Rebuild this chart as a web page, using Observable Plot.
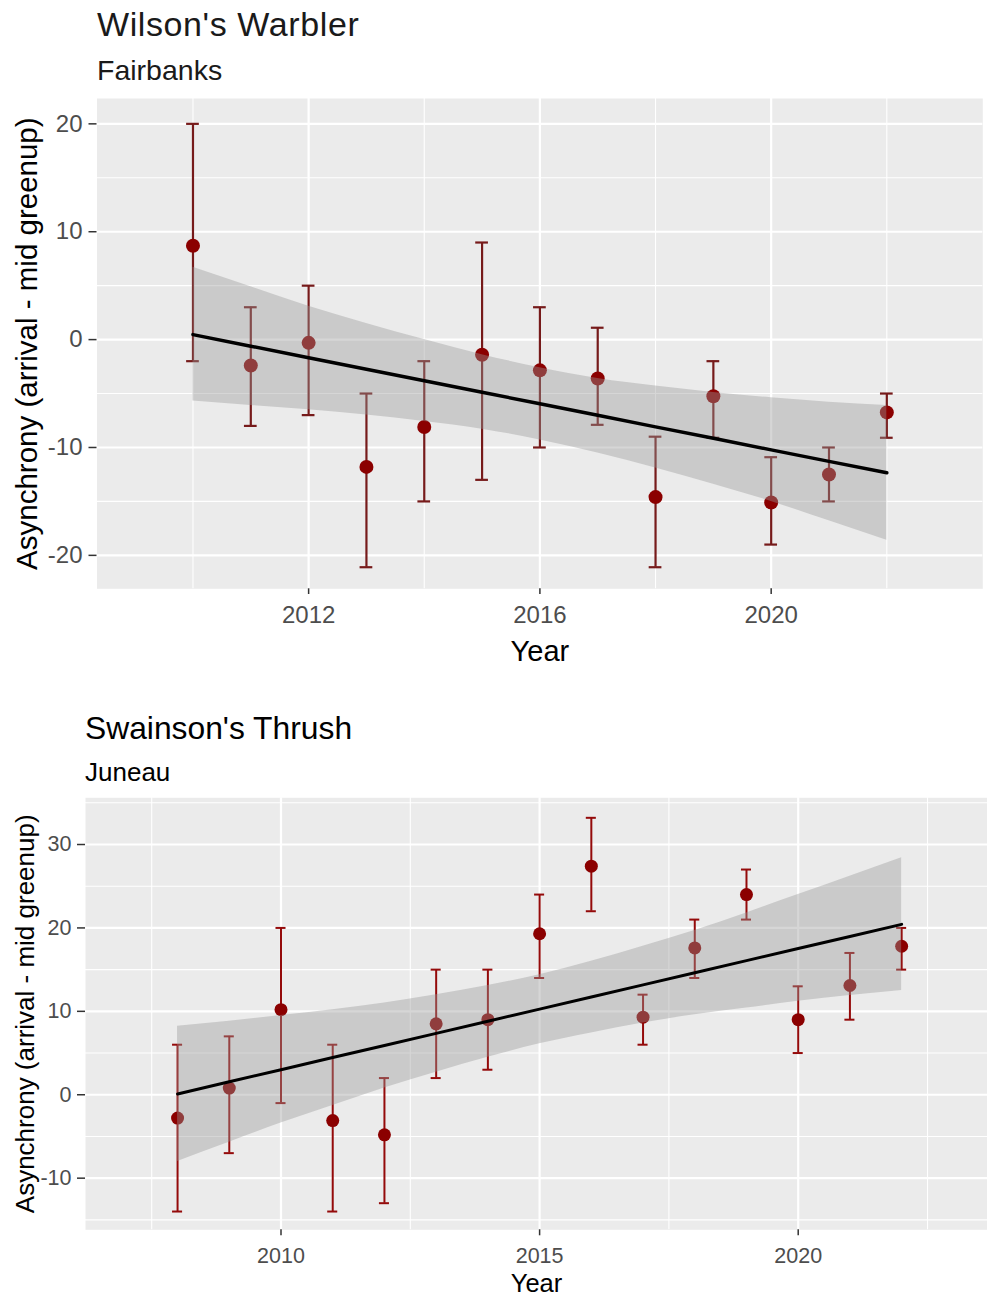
<!DOCTYPE html>
<html>
<head>
<meta charset="utf-8">
<script src="https://cdn.jsdelivr.net/npm/d3@7"></script>
<script src="https://cdn.jsdelivr.net/npm/@observablehq/plot@0.6"></script>
<style>
  html, body { margin: 0; padding: 0; background: white; }
  body { position: relative; width: 987px; height: 1298px; overflow: hidden; font-family: "Liberation Sans", Arial, sans-serif; }
  .t { position: absolute; white-space: nowrap; line-height: 1; color: black; }
  .p { position: absolute; left: 0; }
  .p svg { overflow: visible; }
</style>
</head>
<body>
<div class="t" id="t1" style="left:97px; top:6.7px; font-size:34px; letter-spacing:0.6px; color:#1a1a1a;">Wilson's Warbler</div>
<div class="t" id="s1" style="left:97px; top:55.9px; font-size:28.5px; color:#1a1a1a;">Fairbanks</div>
<div class="p" id="p1" style="top:90px;"></div>
<div class="t" id="t2" style="left:85px; top:713.1px; font-size:31.8px;">Swainson's Thrush</div>
<div class="t" id="s2" style="left:85px; top:758.7px; font-size:26px;">Juneau</div>
<div class="p" id="p2" style="top:790px;"></div>
<script>
// ---------- Wilson's Warbler, Fairbanks ----------
const wwYears = [2010, 2011, 2012, 2013, 2014, 2015, 2016, 2017, 2018, 2019, 2020, 2021, 2022];
const wwMean  = [8.7, -2.4, -0.3, -11.8, -8.1, -1.4, -2.85, -3.6, -14.6, -5.25, -15.1, -12.5, -6.75];
const wwLow   = [-2, -8, -7, -21.1, -15, -13, -10, -7.9, -21.1, -9.1, -19, -15, -9.1];
const wwHigh  = [20, 3, 5, -5, -2, 9, 3, 1.1, -9, -2, -10.9, -10, -5];
const wwFit   = [0.46, -0.61, -1.68, -2.74, -3.81, -4.88, -5.95, -7.02, -8.09, -9.15, -10.22, -11.29, -12.35];
const wwBandHi = [6.7, 4.9, 3.1, 1.5, 0.0, -1.4, -2.6, -3.6, -4.3, -4.9, -5.4, -5.8, -6.1];
const wwBandLo = [-5.7, -6.1, -6.5, -7.0, -7.6, -8.3, -9.3, -10.5, -11.9, -13.4, -15.0, -16.8, -18.6];
const wwXMajor = [2012, 2016, 2020];
const wwXMinor = [2010, 2014, 2018, 2022];
const wwYMajor = [-20, -10, 0, 10, 20];
const wwYMinor = [-15, -5, 5, 15];

// ---------- Swainson's Thrush, Juneau ----------
const stYears = [2008, 2009, 2010, 2011, 2012, 2013, 2014, 2015, 2016, 2017, 2018, 2019, 2020, 2021, 2022];
const stMean  = [-2.8, 0.8, 10.2, -3.1, -4.8, 8.5, 9.0, 19.3, 27.4, 9.3, 17.6, 24.0, 9.0, 13.1, 17.8];
const stLow   = [-14, -7, -1, -14, -13, 2, 3, 14, 22, 6, 14, 21, 5, 9, 15];
const stHigh  = [6, 7, 20, 6, 2, 15, 15, 24, 33.2, 12, 21, 27, 13, 17, 20];
const stFit   = [0.1, 1.55, 3.0, 4.46, 5.91, 7.36, 8.81, 10.27, 11.72, 13.17, 14.62, 16.08, 17.53, 18.98, 20.43];
const stBandHi = [8.2, 8.8, 9.5, 10.2, 11.0, 12.0, 13.1, 14.4, 16.0, 17.8, 19.7, 21.8, 24.0, 26.2, 28.4];
const stBandLo = [-8.0, -5.7, -3.4, -1.3, 0.8, 2.7, 4.5, 6.1, 7.4, 8.6, 9.6, 10.4, 11.2, 11.9, 12.5];
const stXMajor = [2010, 2015, 2020];
const stXMinor = [2007.5, 2012.5, 2017.5, 2022.5];
const stYMajor = [-10, 0, 10, 20, 30];
const stYMinor = [-15, -5, 5, 15, 25, 35];

const yTitle = "Asynchrony (arrival - mid greenup)";
const xTitle = "Year";
const FONT = "Liberation Sans, Arial, sans-serif";

function panel(c) {
  const pts = c.years.map((year, i) => ({year, mean: c.mean[i], lo: c.low[i], hi: c.high[i]}));
  const band = c.years.map((year, i) => ({year, fit: c.fit[i], lo: c.bandLo[i], hi: c.bandHi[i]}));
  const capStyle = {stroke: c.barColor, strokeWidth: c.barWidth};
  return Plot.plot({
    width: 987,
    height: c.height,
    marginTop: c.mt, marginBottom: c.mb, marginLeft: c.ml, marginRight: c.mr,
    x: {domain: c.xDomain, label: null},
    y: {domain: c.yDomain, label: null},
    style: {fontFamily: FONT, background: "transparent", color: "black"},
    marks: [
      Plot.frame({fill: "#EBEBEB", stroke: "none"}),
      Plot.ruleY(c.yMinor, {stroke: "white", strokeWidth: 1.1}),
      Plot.ruleX(c.xMinor, {stroke: "white", strokeWidth: 1.1}),
      Plot.ruleY(c.yMajor, {stroke: "white", strokeWidth: 2.2}),
      Plot.ruleX(c.xMajor, {stroke: "white", strokeWidth: 2.2}),
      Plot.ruleX(pts, {x: "year", y1: "lo", y2: "hi", ...capStyle}),
      Plot.ruleY(pts, {y: "hi", x1: d => d.year - c.cap, x2: d => d.year + c.cap, ...capStyle}),
      Plot.ruleY(pts, {y: "lo", x1: d => d.year - c.cap, x2: d => d.year + c.cap, ...capStyle}),
      Plot.dot(pts, {x: "year", y: "mean", r: c.r, fill: "#8B0000", stroke: "none"}),
      Plot.areaY(band, {x: "year", y1: "lo", y2: "hi", fill: "#999999", fillOpacity: 0.4, curve: "monotone-x"}),
      Plot.line(band, {x: "year", y: "fit", stroke: "black", strokeWidth: c.lineWidth}),
      Plot.axisX(c.xMajor, {tickSize: c.xTickSize, tickPadding: c.xTickPad, fontSize: c.tickFont,
        fill: "#4D4D4D", stroke: "#333333", strokeWidth: 1.5, tickFormat: d => String(d), label: null}),
      Plot.axisY(c.yMajor, {tickSize: c.yTickSize, tickPadding: c.yTickPad, fontSize: c.tickFont,
        fill: "#4D4D4D", stroke: "#333333", strokeWidth: 1.5, tickFormat: d => String(d), label: null}),
      Plot.text([xTitle], {frameAnchor: "bottom", dy: c.xTitleDy, text: d => d, fontSize: c.titleFont,
        fill: "black", lineAnchor: "bottom", textAnchor: "middle"}),
      Plot.text([yTitle], {frameAnchor: "left", dx: c.yTitleDx, text: d => d, fontSize: c.yTitleFont,
        fill: "black", rotate: -90, lineAnchor: "bottom", textAnchor: "middle"})
    ]
  });
}

document.getElementById("p1").appendChild(panel({
  years: wwYears, mean: wwMean, low: wwLow, high: wwHigh,
  fit: wwFit, bandLo: wwBandLo, bandHi: wwBandHi,
  xMajor: wwXMajor, xMinor: wwXMinor, yMajor: wwYMajor, yMinor: wwYMinor,
  xDomain: [2008.34, 2023.66], yDomain: [-23.1, 22.35],
  height: 590, mt: 8, mb: 91.7, ml: 96.5, mr: 4.7,
  barColor: "#761a1a", barWidth: 2.2, cap: 0.11, r: 7, lineWidth: 3.5,
  xTickSize: 5.7, xTickPad: 11, yTickSize: 8, yTickPad: 6.5,
  tickFont: 24, titleFont: 29, yTitleFont: 29.5, xTitleDy: 71.7, yTitleDx: -59.8
}));

document.getElementById("p2").appendChild(panel({
  years: stYears, mean: stMean, low: stLow, high: stHigh,
  fit: stFit, bandLo: stBandLo, bandHi: stBandHi,
  xMajor: stXMajor, xMinor: stXMinor, yMajor: stYMajor, yMinor: stYMinor,
  xDomain: [2006.22, 2023.66], yDomain: [-16.19, 35.6],
  height: 508, mt: 7.3, mb: 68.7, ml: 85, mr: 0,
  barColor: "#940a0a", barWidth: 2, cap: 0.097, r: 6.5, lineWidth: 3,
  xTickSize: 6, xTickPad: 12, yTickSize: 8, yTickPad: 6,
  tickFont: 21.5, titleFont: 25.5, yTitleFont: 26, xTitleDy: 62.4, yTitleDx: -51.7
}));
</script>
</body>
</html>
